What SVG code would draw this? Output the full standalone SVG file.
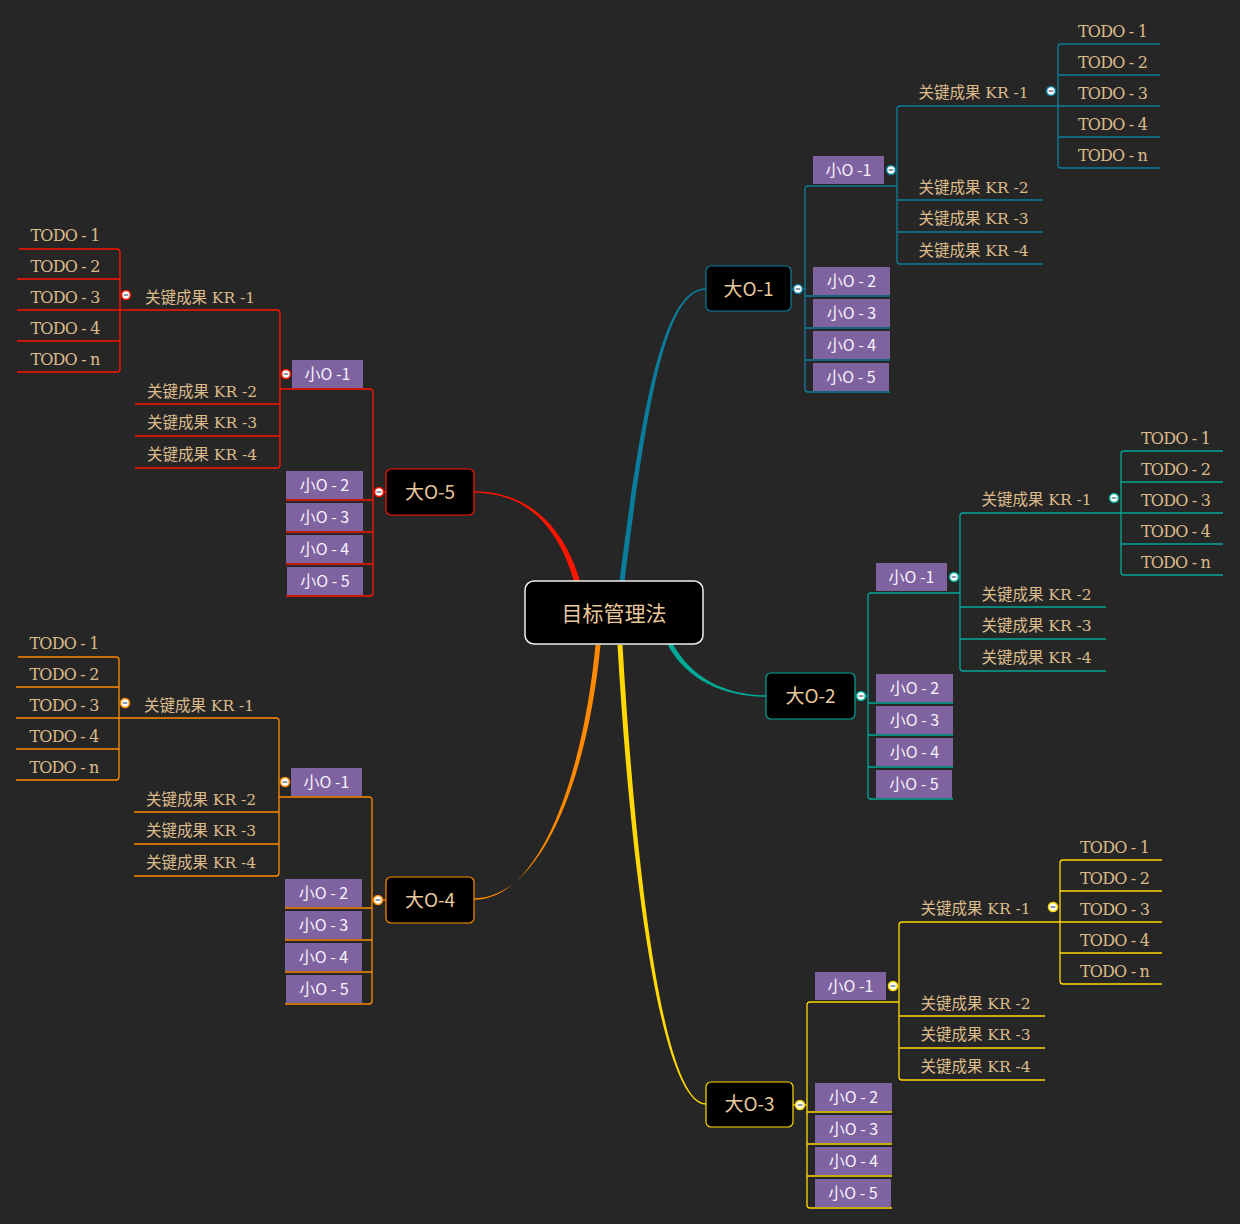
<svg xmlns="http://www.w3.org/2000/svg" width="1240" height="1224" viewBox="0 0 1240 1224">
<style>
.ln{fill:none;stroke:currentColor;stroke-width:1.3}
.taper{stroke:none}
.box{fill:#000;stroke:currentColor;stroke-width:1.2}
.big{font-family:"Noto Sans CJK SC","Noto Sans",sans-serif;font-size:19px;fill:#e8c89c;text-anchor:middle}
.root{font-family:"Noto Sans CJK SC","Noto Sans",sans-serif;font-size:21px;fill:#e8c89c;text-anchor:middle}
.so rect{fill:#7f63a1}
.so text{font-family:"Noto Sans CJK SC","Noto Sans",sans-serif;font-size:16px;fill:#f6f2fa;text-anchor:middle}
.kr text{font-family:"DejaVu Serif","Noto Sans CJK SC",serif;font-size:15.5px;fill:#dcbb8a;text-anchor:middle}
.td text{font-family:"DejaVu Serif",serif;font-size:16px;fill:#dcbb8a;text-anchor:middle;letter-spacing:-0.8px}
.tog circle{fill:#fff;stroke:currentColor;stroke-width:1.6}
.tog line{stroke:#5f6f86;stroke-width:1.4}
</style>
<defs>
<g id="tg" class="tog"><circle r="4.5"/><line x1="-2.3" x2="2.3" y1="0" y2="0"/></g>
</defs>
<rect width="1240" height="1224" fill="#262626"/>

<g id="connectors">
  <g id="main-links">
    <path class="taper" fill="#0b7d9c" d="M619.5,581 C642.5,400 664,288.3 706,288.3 L706,289.7 C666,289.7 647.5,400 624.5,581 Z"/>
    <path class="taper" fill="#ff1500" d="M574,581 C559,530 529,492.7 474,492.7 L474,491.3 C531,491.3 565,530 580,581 Z"/>
    <path class="taper" fill="#00a896" d="M667.8,645.2 C688,681 724,696.7 767,696.7 L767,695.3 C726,695.3 692,679 672.2,642.8 Z"/>
    <path class="taper" fill="#ff8a00" d="M595.5,645 C582.5,780 539,899.7 474,899.7 L474,898.3 C541,898.3 587.5,780 600.5,645 Z"/>
    <path class="taper" fill="#ffd900" d="M617.5,645 C632.5,900 664,1104.7 706,1104.7 L706,1103.3 C666,1103.3 637.5,900 622.5,645 Z"/>
  </g>
  <g id="links-o1" transform="translate(805,289)" color="#0b7d9c">
    <path class="ln" d="M-14,0 H0"/>
    <path class="ln" d="M92,-103 H3 Q0,-103 0,-100 V100 Q0,103 3,103 H85"/>
    <path class="ln" d="M0,7 H85 M0,39 H85 M0,71 H85"/>
    <path class="ln" d="M355,-183 H95 Q92,-183 92,-180 V-28 Q92,-25 95,-25 H238"/>
    <path class="ln" d="M92,-89 H238 M92,-57 H238"/>
    <path class="ln" d="M355,-245 H256 Q253,-245 253,-242 V-124 Q253,-121 256,-121 H355"/>
    <path class="ln" d="M253,-214 H355 M253,-152 H355"/>
  </g>
  <g id="links-o2" transform="translate(868,696)" color="#00a896">
    <path class="ln" d="M-14,0 H0"/>
    <path class="ln" d="M92,-103 H3 Q0,-103 0,-100 V100 Q0,103 3,103 H85"/>
    <path class="ln" d="M0,7 H85 M0,39 H85 M0,71 H85"/>
    <path class="ln" d="M355,-183 H95 Q92,-183 92,-180 V-28 Q92,-25 95,-25 H238"/>
    <path class="ln" d="M92,-89 H238 M92,-57 H238"/>
    <path class="ln" d="M355,-245 H256 Q253,-245 253,-242 V-124 Q253,-121 256,-121 H355"/>
    <path class="ln" d="M253,-214 H355 M253,-152 H355"/>
  </g>
  <g id="links-o3" transform="translate(807,1105)" color="#ffd900">
    <path class="ln" d="M-14,0 H0"/>
    <path class="ln" d="M92,-103 H3 Q0,-103 0,-100 V100 Q0,103 3,103 H85"/>
    <path class="ln" d="M0,7 H85 M0,39 H85 M0,71 H85"/>
    <path class="ln" d="M355,-183 H95 Q92,-183 92,-180 V-28 Q92,-25 95,-25 H238"/>
    <path class="ln" d="M92,-89 H238 M92,-57 H238"/>
    <path class="ln" d="M355,-245 H256 Q253,-245 253,-242 V-124 Q253,-121 256,-121 H355"/>
    <path class="ln" d="M253,-214 H355 M253,-152 H355"/>
  </g>
  <g id="links-o4" transform="translate(372,900)" color="#ff8a00">
    <path class="ln" d="M0,0 H14"/>
    <path class="ln" d="M-93,-103 H-3 Q0,-103 0,-100 V101 Q0,104 -3,104 H-87"/>
    <path class="ln" d="M0,8 H-87 M0,40 H-87 M0,72 H-87"/>
    <path class="ln" d="M-356,-182 H-96 Q-93,-182 -93,-179 V-27 Q-93,-24 -96,-24 H-238"/>
    <path class="ln" d="M-93,-88 H-238 M-93,-56 H-238"/>
    <path class="ln" d="M-354,-243 H-256 Q-253,-243 -253,-240 V-123 Q-253,-120 -256,-120 H-356"/>
    <path class="ln" d="M-253,-213 H-356 M-253,-151 H-356"/>
  </g>
  <g id="links-o5" transform="translate(373,492)" color="#ff1500">
    <path class="ln" d="M0,0 H14"/>
    <path class="ln" d="M-93,-103 H-3 Q0,-103 0,-100 V101 Q0,104 -3,104 H-87"/>
    <path class="ln" d="M0,8 H-87 M0,40 H-87 M0,72 H-87"/>
    <path class="ln" d="M-356,-182 H-96 Q-93,-182 -93,-179 V-27 Q-93,-24 -96,-24 H-238"/>
    <path class="ln" d="M-93,-88 H-238 M-93,-56 H-238"/>
    <path class="ln" d="M-354,-243 H-256 Q-253,-243 -253,-240 V-123 Q-253,-120 -256,-120 H-356"/>
    <path class="ln" d="M-253,-213 H-356 M-253,-151 H-356"/>
  </g>
</g>

<g id="node-root">
  <rect x="525" y="581" width="178" height="63" rx="9" fill="#000" stroke="#f0f0f0" stroke-width="1.5"/>
  <text class="root" x="614" y="620.5">目标管理法</text>
</g>

<!-- 大O-1 -->
<g id="node-o1" color="#0b7d9c">
  <rect class="box" x="706" y="266" width="85" height="45" rx="5"/>
  <text class="big" x="748.5" y="295.7">大O-1</text>
  <use href="#tg" x="798" y="289"/>
</g>
<g id="tree-o1" transform="translate(805,289)" color="#0b7d9c">
  <g id="o1-s1" class="so"><rect x="8" y="-133" width="71" height="28"/><text x="43.5" y="-113.3">小O -1</text><use href="#tg" x="86" y="-119"/></g>
  <g id="o1-s2" class="so"><rect x="8" y="-22" width="77" height="28"/><text x="46.5" y="-2.3">小O - 2</text></g>
  <g id="o1-s3" class="so"><rect x="8" y="10" width="77" height="28"/><text x="46.5" y="29.7">小O - 3</text></g>
  <g id="o1-s4" class="so"><rect x="8" y="42" width="77" height="28"/><text x="46.5" y="61.7">小O - 4</text></g>
  <g id="o1-s5" class="so"><rect x="8" y="74" width="76" height="28"/><text x="46" y="93.7">小O - 5</text></g>
  <g id="o1-kr1" class="kr"><text x="168.5" y="-191">关键成果 KR -1</text><use href="#tg" x="246" y="-198"/></g>
  <g id="o1-kr2" class="kr"><text x="168.5" y="-96">关键成果 KR -2</text></g>
  <g id="o1-kr3" class="kr"><text x="168.5" y="-65">关键成果 KR -3</text></g>
  <g id="o1-kr4" class="kr"><text x="168.5" y="-33">关键成果 KR -4</text></g>
  <g id="o1-t1" class="td"><text x="307.5" y="-252">TODO - 1</text></g>
  <g id="o1-t2" class="td"><text x="307.5" y="-221">TODO - 2</text></g>
  <g id="o1-t3" class="td"><text x="307.5" y="-190">TODO - 3</text></g>
  <g id="o1-t4" class="td"><text x="307.5" y="-159">TODO - 4</text></g>
  <g id="o1-tn" class="td"><text x="307.5" y="-128">TODO - n</text></g>
</g>

<!-- 大O-2 -->
<g id="node-o2" color="#00a896">
  <rect class="box" x="766" y="673" width="89" height="46" rx="5"/>
  <text class="big" x="810.5" y="702.7">大O-2</text>
  <use href="#tg" x="861" y="696"/>
</g>
<g id="tree-o2" transform="translate(868,696)" color="#00a896">
  <g id="o2-s1" class="so"><rect x="8" y="-133" width="71" height="28"/><text x="43.5" y="-113.3">小O -1</text><use href="#tg" x="86" y="-119"/></g>
  <g id="o2-s2" class="so"><rect x="8" y="-22" width="77" height="28"/><text x="46.5" y="-2.3">小O - 2</text></g>
  <g id="o2-s3" class="so"><rect x="8" y="10" width="77" height="28"/><text x="46.5" y="29.7">小O - 3</text></g>
  <g id="o2-s4" class="so"><rect x="8" y="42" width="77" height="28"/><text x="46.5" y="61.7">小O - 4</text></g>
  <g id="o2-s5" class="so"><rect x="8" y="74" width="76" height="28"/><text x="46" y="93.7">小O - 5</text></g>
  <g id="o2-kr1" class="kr"><text x="168.5" y="-191">关键成果 KR -1</text><use href="#tg" x="246" y="-198"/></g>
  <g id="o2-kr2" class="kr"><text x="168.5" y="-96">关键成果 KR -2</text></g>
  <g id="o2-kr3" class="kr"><text x="168.5" y="-65">关键成果 KR -3</text></g>
  <g id="o2-kr4" class="kr"><text x="168.5" y="-33">关键成果 KR -4</text></g>
  <g id="o2-t1" class="td"><text x="307.5" y="-252">TODO - 1</text></g>
  <g id="o2-t2" class="td"><text x="307.5" y="-221">TODO - 2</text></g>
  <g id="o2-t3" class="td"><text x="307.5" y="-190">TODO - 3</text></g>
  <g id="o2-t4" class="td"><text x="307.5" y="-159">TODO - 4</text></g>
  <g id="o2-tn" class="td"><text x="307.5" y="-128">TODO - n</text></g>
</g>

<!-- 大O-3 -->
<g id="node-o3" color="#ffd900">
  <rect class="box" x="706" y="1082" width="87" height="45" rx="5"/>
  <text class="big" x="749.5" y="1111.2">大O-3</text>
  <use href="#tg" x="800" y="1105"/>
</g>
<g id="tree-o3" transform="translate(807,1105)" color="#ffd900">
  <g id="o3-s1" class="so"><rect x="8" y="-133" width="71" height="28"/><text x="43.5" y="-113.3">小O -1</text><use href="#tg" x="86" y="-119"/></g>
  <g id="o3-s2" class="so"><rect x="8" y="-22" width="77" height="28"/><text x="46.5" y="-2.3">小O - 2</text></g>
  <g id="o3-s3" class="so"><rect x="8" y="10" width="77" height="28"/><text x="46.5" y="29.7">小O - 3</text></g>
  <g id="o3-s4" class="so"><rect x="8" y="42" width="77" height="28"/><text x="46.5" y="61.7">小O - 4</text></g>
  <g id="o3-s5" class="so"><rect x="8" y="74" width="76" height="28"/><text x="46" y="93.7">小O - 5</text></g>
  <g id="o3-kr1" class="kr"><text x="168.5" y="-191">关键成果 KR -1</text><use href="#tg" x="246" y="-198"/></g>
  <g id="o3-kr2" class="kr"><text x="168.5" y="-96">关键成果 KR -2</text></g>
  <g id="o3-kr3" class="kr"><text x="168.5" y="-65">关键成果 KR -3</text></g>
  <g id="o3-kr4" class="kr"><text x="168.5" y="-33">关键成果 KR -4</text></g>
  <g id="o3-t1" class="td"><text x="307.5" y="-252">TODO - 1</text></g>
  <g id="o3-t2" class="td"><text x="307.5" y="-221">TODO - 2</text></g>
  <g id="o3-t3" class="td"><text x="307.5" y="-190">TODO - 3</text></g>
  <g id="o3-t4" class="td"><text x="307.5" y="-159">TODO - 4</text></g>
  <g id="o3-tn" class="td"><text x="307.5" y="-128">TODO - n</text></g>
</g>

<!-- 大O-4 -->
<g id="node-o4" color="#ff8a00">
  <rect class="box" x="386" y="877" width="88" height="46" rx="5"/>
  <text class="big" x="430" y="906.7">大O-4</text>
  <use href="#tg" x="378" y="900"/>
</g>
<g id="tree-o4" transform="translate(372,900)" color="#ff8a00">
  <g id="o4-s1" class="so"><rect x="-81" y="-132" width="71" height="28"/><text x="-45.5" y="-112.3">小O -1</text><use href="#tg" x="-87" y="-118"/></g>
  <g id="o4-s2" class="so"><rect x="-87" y="-21" width="77" height="28"/><text x="-48.5" y="-1.3">小O - 2</text></g>
  <g id="o4-s3" class="so"><rect x="-87" y="11" width="77" height="28"/><text x="-48.5" y="30.7">小O - 3</text></g>
  <g id="o4-s4" class="so"><rect x="-87" y="43" width="77" height="28"/><text x="-48.5" y="62.7">小O - 4</text></g>
  <g id="o4-s5" class="so"><rect x="-86" y="75" width="76" height="28"/><text x="-48" y="94.7">小O - 5</text></g>
  <g id="o4-kr1" class="kr"><text x="-173" y="-189">关键成果 KR -1</text><use href="#tg" x="-247" y="-197"/></g>
  <g id="o4-kr2" class="kr"><text x="-171" y="-95">关键成果 KR -2</text></g>
  <g id="o4-kr3" class="kr"><text x="-171" y="-64">关键成果 KR -3</text></g>
  <g id="o4-kr4" class="kr"><text x="-171" y="-32">关键成果 KR -4</text></g>
  <g id="o4-t1" class="td"><text x="-308" y="-251.5">TODO - 1</text></g>
  <g id="o4-t2" class="td"><text x="-308" y="-220.5">TODO - 2</text></g>
  <g id="o4-t3" class="td"><text x="-308" y="-189.5">TODO - 3</text></g>
  <g id="o4-t4" class="td"><text x="-308" y="-158.5">TODO - 4</text></g>
  <g id="o4-tn" class="td"><text x="-308" y="-127.5">TODO - n</text></g>
</g>

<!-- 大O-5 -->
<g id="node-o5" color="#ff1500">
  <rect class="box" x="386" y="469" width="88" height="46" rx="5"/>
  <text class="big" x="430" y="498.7">大O-5</text>
  <use href="#tg" x="379" y="492"/>
</g>
<g id="tree-o5" transform="translate(373,492)" color="#ff1500">
  <g id="o5-s1" class="so"><rect x="-81" y="-132" width="71" height="28"/><text x="-45.5" y="-112.3">小O -1</text><use href="#tg" x="-87" y="-118"/></g>
  <g id="o5-s2" class="so"><rect x="-87" y="-21" width="77" height="28"/><text x="-48.5" y="-1.3">小O - 2</text></g>
  <g id="o5-s3" class="so"><rect x="-87" y="11" width="77" height="28"/><text x="-48.5" y="30.7">小O - 3</text></g>
  <g id="o5-s4" class="so"><rect x="-87" y="43" width="77" height="28"/><text x="-48.5" y="62.7">小O - 4</text></g>
  <g id="o5-s5" class="so"><rect x="-86" y="75" width="76" height="28"/><text x="-48" y="94.7">小O - 5</text></g>
  <g id="o5-kr1" class="kr"><text x="-173" y="-189">关键成果 KR -1</text><use href="#tg" x="-247" y="-197"/></g>
  <g id="o5-kr2" class="kr"><text x="-171" y="-95">关键成果 KR -2</text></g>
  <g id="o5-kr3" class="kr"><text x="-171" y="-64">关键成果 KR -3</text></g>
  <g id="o5-kr4" class="kr"><text x="-171" y="-32">关键成果 KR -4</text></g>
  <g id="o5-t1" class="td"><text x="-308" y="-251.5">TODO - 1</text></g>
  <g id="o5-t2" class="td"><text x="-308" y="-220.5">TODO - 2</text></g>
  <g id="o5-t3" class="td"><text x="-308" y="-189.5">TODO - 3</text></g>
  <g id="o5-t4" class="td"><text x="-308" y="-158.5">TODO - 4</text></g>
  <g id="o5-tn" class="td"><text x="-308" y="-127.5">TODO - n</text></g>
</g>
</svg>
